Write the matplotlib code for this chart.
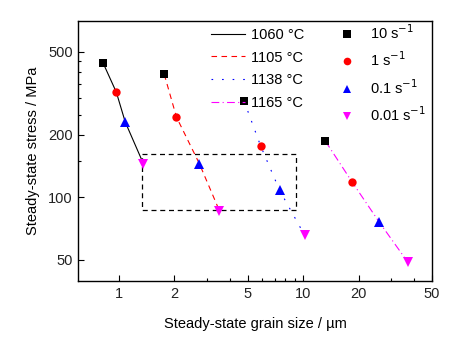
import matplotlib
matplotlib.use("Agg")
import matplotlib.pyplot as plt
from matplotlib.lines import Line2D
from matplotlib.ticker import FixedLocator, NullFormatter, FixedFormatter

plt.rcParams['font.family'] = ['Liberation Sans', 'DejaVu Sans']

temperatures = ["1060 °C", "1105 °C", "1138 °C", "1165 °C"]
strain_rates = ["10 s$^{-1}$", "1 s$^{-1}$", "0.1 s$^{-1}$", "0.01 s$^{-1}$"]

grain_1060 = [0.82, 0.966, 1.08, 1.355]
stress_1060 = [441, 320, 230, 145]
grain_1105 = [1.76, 2.05, 2.73, 3.51]
stress_1105 = [390, 243, 145, 86]
grain_1138 = [4.78, 5.87, 7.45, 10.2]
stress_1138 = [290, 177, 108, 65.5]
grain_1165 = [13.2, 18.5, 26.0, 37.0]
stress_1165 = [186.5, 118, 75.6, 48.8]

box_x = [1.33, 9.17]
box_y = [86.6, 162]

grains = [grain_1060, grain_1105, grain_1138, grain_1165]
stresses = [stress_1060, stress_1105, stress_1138, stress_1165]
line_colors = ['black', 'red', 'blue', 'magenta']
line_styles = ['-', (0, (5, 4)), (0, (1.5, 8)), (0, (7, 3, 1, 3))]
marker_shapes = ['s', 'o', '^', 'v']
marker_colors = ['black', 'red', 'blue', 'magenta']
marker_sizes = [5.5, 6, 6.5, 6.5]

fig = plt.figure(figsize=(4.57, 3.38), dpi=100)
ax = fig.add_axes([0.1713, 0.1686, 0.9447 - 0.1713, 0.9379 - 0.1686])
ax.set_xscale('log')
ax.set_yscale('log')

for g, s, c, ls in zip(grains, stresses, line_colors, line_styles):
    ax.plot(g, s, color=c, linestyle=ls, linewidth=0.8, zorder=2)
    for xi, yi, m, mc, ms in zip(g, s, marker_shapes, marker_colors, marker_sizes):
        ax.plot([xi], [yi], linestyle='none', marker=m, color=mc,
                markersize=ms, markeredgewidth=0, zorder=3)

# dashed rectangle
ax.plot([box_x[0], box_x[1], box_x[1], box_x[0], box_x[0]],
        [box_y[1], box_y[1], box_y[0], box_y[0], box_y[1]],
        color='black', linestyle=(0, (4, 3)), linewidth=0.9, zorder=1)

ax.set_xlim(0.6, 50)
ax.set_ylim(39.5, 705)

xmaj = [1, 2, 5, 10, 20, 50]
xmin = [3, 4, 6, 7, 8, 9, 30, 40]
ymaj = [50, 100, 200, 500]
ymin = [150, 250, 300, 350, 400, 450]
ax.xaxis.set_major_locator(FixedLocator(xmaj))
ax.xaxis.set_major_formatter(FixedFormatter([str(v) for v in xmaj]))
ax.xaxis.set_minor_locator(FixedLocator(xmin))
ax.xaxis.set_minor_formatter(NullFormatter())
ax.yaxis.set_major_locator(FixedLocator(ymaj))
ax.yaxis.set_major_formatter(FixedFormatter([str(v) for v in ymaj]))
ax.yaxis.set_minor_locator(FixedLocator(ymin))
ax.yaxis.set_minor_formatter(NullFormatter())

ax.tick_params(which='major', direction='in', length=4, width=0.8,
               labelsize=10.5, pad=4, colors='black', labelcolor='#222222')
ax.tick_params(which='minor', direction='in', length=2.5, width=0.8)
for sp in ax.spines.values():
    sp.set_linewidth(1.0)

ax.set_xlabel("Steady-state grain size / µm", fontsize=10.5, labelpad=12)
ax.set_ylabel("Steady-state stress / MPa", fontsize=10.5, labelpad=5.5)

handles = []
labels = []
for i in range(4):
    handles.append(Line2D([], [], color=line_colors[i], linestyle=line_styles[i], linewidth=0.8))
    labels.append(temperatures[i])
for i in range(4):
    handles.append(Line2D([], [], linestyle='none', marker=marker_shapes[i],
                          color=marker_colors[i], markersize=5.5, markeredgewidth=0))
    labels.append(strain_rates[i])

leg = ax.legend(handles, labels, ncol=2, frameon=False, fontsize=10.5,
                loc='upper left', bbox_to_anchor=(211 / 457, 1 - 23 / 338),
                bbox_transform=fig.transFigure, borderpad=0, borderaxespad=0,
                handlelength=2.35, handletextpad=0.42, columnspacing=1.7,
                labelspacing=0.61)

fig.savefig('out.png', dpi=100)
